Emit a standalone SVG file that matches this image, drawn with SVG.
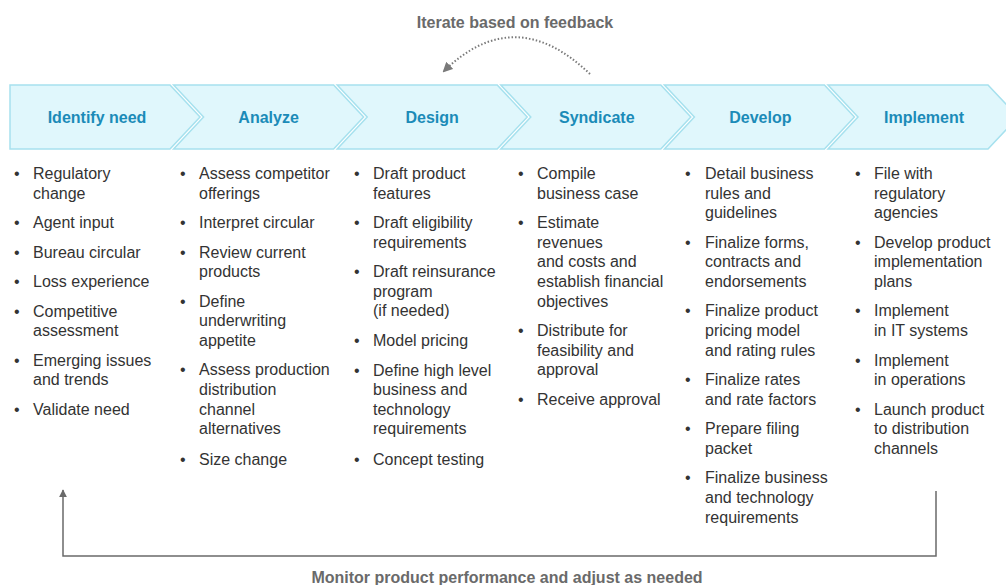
<svg xmlns="http://www.w3.org/2000/svg" width="1006" height="585" viewBox="0 0 1006 585">
  <defs>
    <style>
      .stage { fill: #e0f7fc; stroke: #a6e1ee; stroke-width: 1.5; }
      .head { font-family: "Liberation Sans", Arial, sans-serif; font-size: 16px; font-weight: bold; fill: #1b8bb8; text-anchor: middle; }
      .body { font-family: "Liberation Sans", Arial, sans-serif; font-size: 16px; fill: #333333; }
      .note { font-family: "Liberation Sans", Arial, sans-serif; font-size: 16px; font-weight: bold; fill: #6a6a6a; text-anchor: middle; }
      .loop { fill: none; stroke: #6a6a6a; stroke-width: 1.5; }
      .feedback { fill: none; stroke: #7a7a7a; stroke-width: 2; stroke-dasharray: 1.5 2; }
    </style>
    <marker id="arrowSolid" viewBox="0 0 10 10" refX="9" refY="5" markerWidth="8" markerHeight="8" markerUnits="userSpaceOnUse" orient="auto">
      <path d="M0,0 L10,5 L0,10 Z" fill="#6a6a6a"/>
    </marker>
    <marker id="arrowDot" viewBox="0 0 10 10" refX="8" refY="5" markerWidth="10" markerHeight="10" markerUnits="userSpaceOnUse" orient="auto">
      <path d="M0,0 L10,5 L0,10 Z" fill="#7a7a7a"/>
    </marker>
  </defs>

  <rect width="1006" height="585" fill="#ffffff"/>

  <!-- process stages -->
  <g id="stage-identify">
    <polygon class="stage" points="10,85 170,85 200,117 170,149 10,149"/>
    <text class="head" x="97" y="123">Identify need</text>
  </g>
  <g id="stage-analyze">
    <polygon class="stage" points="173.6,85 333.6,85 363.6,117 333.6,149 173.6,149 203.6,117"/>
    <text class="head" x="268.6" y="123">Analyze</text>
  </g>
  <g id="stage-design">
    <polygon class="stage" points="337.2,85 497.2,85 527.2,117 497.2,149 337.2,149 367.2,117"/>
    <text class="head" x="432.2" y="123">Design</text>
  </g>
  <g id="stage-syndicate">
    <polygon class="stage" points="500.8,85 660.8,85 690.8,117 660.8,149 500.8,149 530.8,117"/>
    <text class="head" x="596.8" y="123">Syndicate</text>
  </g>
  <g id="stage-develop">
    <polygon class="stage" points="664.4,85 824.4,85 854.4,117 824.4,149 664.4,149 694.4,117"/>
    <text class="head" x="760.4" y="123">Develop</text>
  </g>
  <g id="stage-implement">
    <polygon class="stage" points="828,85 988,85 1018,117 988,149 828,149 858,117"/>
    <text class="head" x="924" y="123">Implement</text>
  </g>

  <!-- activity lists -->
  <g id="list-identify" class="body">
    <text x="14" y="179">•</text><text x="33" y="179">Regulatory<tspan x="33" dy="19.6">change</tspan></text>
    <text x="14" y="228.1">•</text><text x="33" y="228.1">Agent input</text>
    <text x="14" y="257.6">•</text><text x="33" y="257.6">Bureau circular</text>
    <text x="14" y="287.1">•</text><text x="33" y="287.1">Loss experience</text>
    <text x="14" y="316.6">•</text><text x="33" y="316.6">Competitive<tspan x="33" dy="19.6">assessment</tspan></text>
    <text x="14" y="365.7">•</text><text x="33" y="365.7">Emerging issues<tspan x="33" dy="19.6">and trends</tspan></text>
    <text x="14" y="414.8">•</text><text x="33" y="414.8">Validate need</text>
  </g>
  <g id="list-analyze" class="body">
    <text x="180" y="179">•</text><text x="199" y="179">Assess competitor<tspan x="199" dy="19.6">offerings</tspan></text>
    <text x="180" y="228.1">•</text><text x="199" y="228.1">Interpret circular</text>
    <text x="180" y="257.6">•</text><text x="199" y="257.6">Review current<tspan x="199" dy="19.6">products</tspan></text>
    <text x="180" y="306.7">•</text><text x="199" y="306.7">Define<tspan x="199" dy="19.6">underwriting</tspan><tspan x="199" dy="19.6">appetite</tspan></text>
    <text x="180" y="375.4">•</text><text x="199" y="375.4">Assess production<tspan x="199" dy="19.6">distribution</tspan><tspan x="199" dy="19.6">channel</tspan><tspan x="199" dy="19.6">alternatives</tspan></text>
    <text x="180" y="464.7">•</text><text x="199" y="464.7">Size change</text>
  </g>
  <g id="list-design" class="body">
    <text x="354" y="179">•</text><text x="373" y="179">Draft product<tspan x="373" dy="19.6">features</tspan></text>
    <text x="354" y="228.1">•</text><text x="373" y="228.1">Draft eligibility<tspan x="373" dy="19.6">requirements</tspan></text>
    <text x="354" y="277.2">•</text><text x="373" y="277.2">Draft reinsurance<tspan x="373" dy="19.6">program</tspan><tspan x="373" dy="19.6">(if needed)</tspan></text>
    <text x="354" y="346">•</text><text x="373" y="346">Model pricing</text>
    <text x="354" y="375.5">•</text><text x="373" y="375.5">Define high level<tspan x="373" dy="19.6">business and</tspan><tspan x="373" dy="19.6">technology</tspan><tspan x="373" dy="19.6">requirements</tspan></text>
    <text x="354" y="464.8">•</text><text x="373" y="464.8">Concept testing</text>
  </g>
  <g id="list-syndicate" class="body">
    <text x="518" y="179">•</text><text x="537" y="179">Compile<tspan x="537" dy="19.6">business case</tspan></text>
    <text x="518" y="228.1">•</text><text x="537" y="228.1">Estimate<tspan x="537" dy="19.6">revenues</tspan><tspan x="537" dy="19.6">and costs and</tspan><tspan x="537" dy="19.6">establish financial</tspan><tspan x="537" dy="19.6">objectives</tspan></text>
    <text x="518" y="336">•</text><text x="537" y="336">Distribute for<tspan x="537" dy="19.6">feasibility and</tspan><tspan x="537" dy="19.6">approval</tspan></text>
    <text x="518" y="404.7">•</text><text x="537" y="404.7">Receive approval</text>
  </g>
  <g id="list-develop" class="body">
    <text x="685" y="179">•</text><text x="705" y="179">Detail business<tspan x="705" dy="19.6">rules and</tspan><tspan x="705" dy="19.6">guidelines</tspan></text>
    <text x="685" y="247.7">•</text><text x="705" y="247.7">Finalize forms,<tspan x="705" dy="19.6">contracts and</tspan><tspan x="705" dy="19.6">endorsements</tspan></text>
    <text x="685" y="316.4">•</text><text x="705" y="316.4">Finalize product<tspan x="705" dy="19.6">pricing model</tspan><tspan x="705" dy="19.6">and rating rules</tspan></text>
    <text x="685" y="385.1">•</text><text x="705" y="385.1">Finalize rates<tspan x="705" dy="19.6">and rate factors</tspan></text>
    <text x="685" y="434.2">•</text><text x="705" y="434.2">Prepare filing<tspan x="705" dy="19.6">packet</tspan></text>
    <text x="685" y="483.3">•</text><text x="705" y="483.3">Finalize business<tspan x="705" dy="19.6">and technology</tspan><tspan x="705" dy="19.6">requirements</tspan></text>
  </g>
  <g id="list-implement" class="body">
    <text x="855" y="179">•</text><text x="874" y="179">File with<tspan x="874" dy="19.6">regulatory</tspan><tspan x="874" dy="19.6">agencies</tspan></text>
    <text x="855" y="247.7">•</text><text x="874" y="247.7">Develop product<tspan x="874" dy="19.6">implementation</tspan><tspan x="874" dy="19.6">plans</tspan></text>
    <text x="855" y="316.4">•</text><text x="874" y="316.4">Implement<tspan x="874" dy="19.6">in IT systems</tspan></text>
    <text x="855" y="365.5">•</text><text x="874" y="365.5">Implement<tspan x="874" dy="19.6">in operations</tspan></text>
    <text x="855" y="414.6">•</text><text x="874" y="414.6">Launch product<tspan x="874" dy="19.6">to distribution</tspan><tspan x="874" dy="19.6">channels</tspan></text>
  </g>

  <!-- feedback loops -->
  <g id="connectors">
    <path class="feedback" d="M590,74 Q515,2 444,71" marker-end="url(#arrowDot)"/>
    <path class="loop" d="M936,491 V556 H63 V490" marker-end="url(#arrowSolid)"/>
  </g>

  <g id="labels">
    <text class="note" x="515" y="28">Iterate based on feedback</text>
    <text class="note" x="507" y="583">Monitor product performance and adjust as needed</text>
  </g>
</svg>
